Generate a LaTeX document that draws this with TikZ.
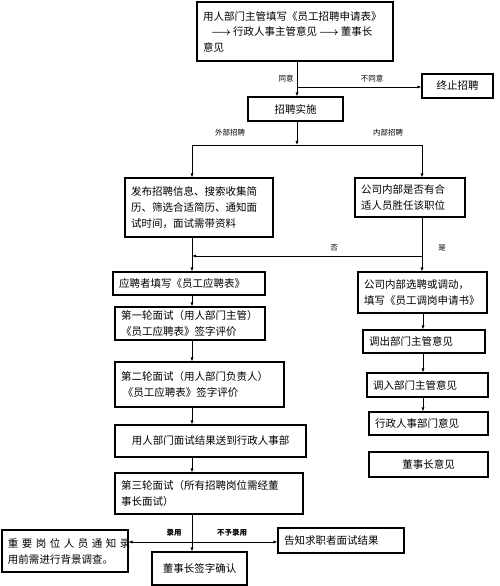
\documentclass[tikz,border=0pt]{standalone}
\usepackage{amsmath}
\usepackage{fontspec}
\setmainfont{Noto Sans CJK SC}
\usetikzlibrary{arrows.meta}
\newcommand\bx[7]{%
  \pgfmathsetmacro\bxw{#4-#2}%
  \pgfmathsetmacro\bxh{#5-#3}%
  \pgfmathsetmacro\bxcx{(#2+#4)/2}%
  \pgfmathsetmacro\bxcy{586-(#3+#5)/2}%
  \pgfmathsetmacro\bxtw{#4-#2-12}%
  \node[box, align=#6, text width=\bxtw pt, minimum height=\bxh pt] (#1) at (\bxcx,\bxcy) {#7};}
\begin{document}
\begin{tikzpicture}[x=1pt,y=1pt,
  box/.style={draw, line width=1.2pt, inner xsep=6pt, inner ysep=2pt,
    font=\fontsize{10.5}{16}\selectfont},
  lbl/.style={font=\fontsize{7.5}{9}\selectfont, inner sep=1pt},
  arr/.style={line width=0.9pt, -{Latex[length=4pt,width=3.2pt]}},
  ln/.style={line width=0.9pt}]
\useasboundingbox (0,0) rectangle (500,586);
\fill[white] (0,0) rectangle (500,586);
\coordinate (colM) at (297,0);
\coordinate (colL) at (192,0);
\coordinate (colR) at (423,0);
\coordinate (colRR) at (422,0);
% boxes
\bx{A}{197}{2}{393}{61}{left}{用人部门主管填写《员工招聘申请表》\\[-1pt]
 \hspace*{8pt}$\boldsymbol{\longrightarrow}$\,行政人事主管意见\,$\boldsymbol{\longrightarrow}$\,董事长\\意见}
\bx{B}{422}{74}{493}{98}{center}{终止招聘}
\bx{C}{248}{97}{343}{121}{center}{招聘实施}
\bx{D}{125}{178}{273}{237}{left}{发布招聘信息、搜索收集简\\历、筛选合适简历、通知面\\试时间，面试需带资料}
\bx{E}{355}{178}{465}{217}{left}{公司内部是否有合\\适人员胜任该职位}
\bx{F}{113}{272}{265}{295}{left}{应聘者填写《员工应聘表》}
\bx{G}{115}{307}{265}{340}{left}{第一轮面试（用人部门主管）\\《员工应聘表》签字评价}
\bx{H}{115}{362}{284}{407}{left}{第二轮面试（用人部门负责人）\\\,《员工应聘表》签字评价}
\bx{I}{115}{425}{306}{457}{center}{用人部门面试结果送到行政人事部}
\bx{J}{115}{473}{303}{514}{left}{第三轮面试（所有招聘岗位需经董\\事长面试）}
\bx{K}{2}{530}{128}{572}{left}{\makebox[\linewidth][s]{重 要 岗 位 人 员 通 知 录}\\用前需进行背景调查。}
\bx{L}{278}{528}{404}{553}{left}{告知求职者面试结果}
\bx{M}{152}{552}{247}{585}{center}{董事长签字确认}
\bx{N}{358}{272}{487}{313}{left}{公司内部选聘或调动，\\填写《员工调岗申请书》}
\bx{O}{363}{330}{485}{353}{left}{调出部门主管意见}
\bx{P}{367}{373}{488}{397}{left}{调入部门主管意见}
\bx{Q}{369}{412}{488}{435}{left}{行政人事部门意见}
\bx{R}{369}{452}{488}{477}{center}{董事长意见}
% junction coordinates
\coordinate (j1) at (297,586-87);
\coordinate (j2) at (297,586-145);
\coordinate (j3) at (422,586-256);
\coordinate (j4) at (192,586-542);
% connectors top
\draw[arr] (colM |- A.south) -- (colM |- C.north);
\draw[arr] (j1) -- (j1 -| B.west);
\node[lbl] (t1) at (286,586-79) {同意};
\node[lbl] (t2) at (372,586-79) {不同意};
\draw[arr] (colM |- C.south) -- (j2);
\draw[ln] (j2 -| colL) -- (j2 -| colRR);
\draw[arr] (j2 -| colL) -- (colL |- D.north);
\draw[arr] (j2 -| colRR) -- (colRR |- E.north);
\node[lbl] (t3) at (230,586-133) {外部招聘};
\node[lbl] (t4) at (388,586-133) {内部招聘};
% decision
\draw[ln] (colRR |- E.south) -- (j3);
\draw[arr] (j3) -- (j3 -| colL);
\draw[arr] (j3) -- (colRR |- N.north);
\node[lbl] (t5) at (334,586-248) {否};
\node[lbl] (t6) at (442,586-248) {是};
% left column
\draw[arr] (colL |- D.south) -- (colL |- F.north);
\draw[arr] (colL |- F.south) -- (colL |- G.north);
\draw[arr] (colL |- G.south) -- (colL |- H.north);
\draw[arr] (colL |- H.south) -- (colL |- I.north);
\draw[arr] (colL |- I.south) -- (colL |- J.north);
\draw[arr] (colL |- J.south) -- (colL |- M.north);
\draw[arr] (j4) -- (j4 -| K.east);
\draw[arr] (j4) -- (j4 -| L.west);
\node[lbl, font=\fontsize{7.5}{9}\selectfont\bfseries] (t7) at (174,586-533) {录用};
\node[lbl, font=\fontsize{7.5}{9}\selectfont\bfseries] (t8) at (232,586-533) {不予录用};
% right column
\draw[arr] (colR |- N.south) -- (colR |- O.north);
\draw[arr] (colR |- O.south) -- (colR |- P.north);
\draw[arr] (colR |- P.south) -- (colR |- Q.north);
\end{tikzpicture}
\end{document}
